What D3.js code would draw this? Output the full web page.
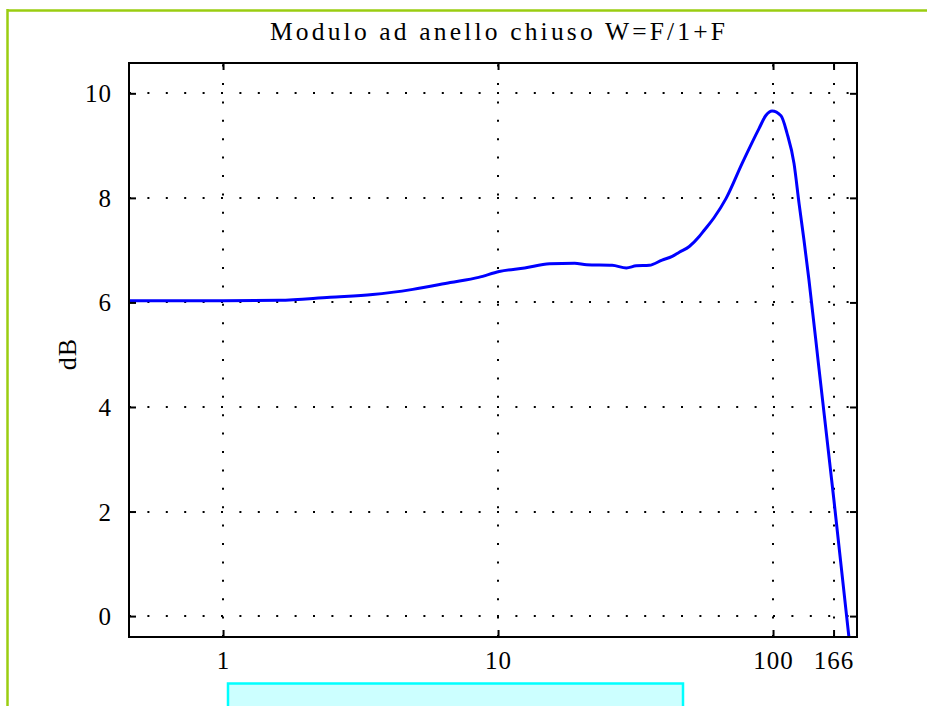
<!DOCTYPE html>
<html>
<head>
<meta charset="utf-8">
<script src="https://cdn.jsdelivr.net/npm/d3@7"></script>
<style>
  html, body { margin: 0; padding: 0; background: #fff; }
  svg { display: block; }
  text { font-family: "Liberation Serif", "Times New Roman", serif; fill: #000; }
</style>
</head>
<body>
<svg id="chart" width="927" height="706"></svg>
<script>
// ---- data ----
const freq = [0.45, 1, 1.6, 2.45, 3.5, 4.9, 6.7, 8.5, 10.1, 12.5, 15.4, 19, 21, 26, 29.3, 31.8, 35.5, 39.5, 43, 45.6, 49.6, 53.9, 56.2, 61, 67.5, 77.2, 89, 94.3, 99.2, 106.9, 112.4, 119.2, 124.3, 129.6, 135.1, 146.9, 166.5, 185.6, 192];
const magDb = [6.03, 6.03, 6.04, 6.10, 6.15, 6.25, 6.38, 6.48, 6.59, 6.66, 6.74, 6.75, 6.72, 6.71, 6.66, 6.70, 6.71, 6.81, 6.88, 6.96, 7.07, 7.26, 7.38, 7.62, 7.99, 8.66, 9.33, 9.58, 9.66, 9.57, 9.24, 8.66, 7.90, 7.19, 6.43, 4.74, 2.22, -0.05, -0.75];
const xTicks = [1, 10, 100, 166];
const xTickLabels = ["1", "10", "100", "166"];
const yTicks = [0, 2, 4, 6, 8, 10];
const yTickLabels = ["0", "2", "4", "6", "8", "10"];
const titleText = "Modulo ad anello chiuso W=F/1+F";
const yLabelText = "dB";

// ---- layout ----
const svg = d3.select("#chart");
const L = 129, R = 857, T = 63, B = 637;

const x = d3.scaleLog().domain([0.455, 202]).range([L, R]);
const y = d3.scaleLinear().domain([-0.4, 10.58]).range([B, T]);

// outer decorative green frame (top + left)
svg.append("line").attr("x1", 7).attr("x2", 927).attr("y1", 10.5).attr("y2", 10.5)
  .attr("stroke", "#9acd10").attr("stroke-width", 2.5);
svg.append("line").attr("x1", 7.5).attr("x2", 7.5).attr("y1", 9).attr("y2", 706)
  .attr("stroke", "#9acd10").attr("stroke-width", 2.5);

// cyan box at bottom
svg.append("rect").attr("x", 228).attr("y", 683.5).attr("width", 455).attr("height", 40)
  .attr("fill", "#ccffff").attr("stroke", "#00ffff").attr("stroke-width", 2.5);

// clip
svg.append("clipPath").attr("id", "plotclip")
  .append("rect").attr("x", L).attr("y", T).attr("width", R - L).attr("height", B - T);

// grid
const grid = svg.append("g").attr("stroke", "#000").attr("stroke-width", 2)
  .attr("stroke-dasharray", "2,16.4").attr("fill", "none");
grid.selectAll("line.v").data(xTicks).join("line")
  .attr("x1", d => Math.round(x(d))).attr("x2", d => Math.round(x(d)))
  .attr("y1", B).attr("y2", T);
grid.selectAll("line.h").data(yTicks).join("line")
  .attr("x1", L).attr("x2", R)
  .attr("y1", d => Math.round(y(d))).attr("y2", d => Math.round(y(d)));

// curve
const line = d3.line().x((d, i) => x(freq[i])).y(d => y(d)).curve(d3.curveMonotoneX);
svg.append("path").datum(magDb)
  .attr("clip-path", "url(#plotclip)")
  .attr("d", line)
  .attr("fill", "none").attr("stroke", "#0000ff").attr("stroke-width", 3)
  .attr("stroke-linejoin", "round");

// axes box
svg.append("rect").attr("x", L).attr("y", T).attr("width", R - L).attr("height", B - T)
  .attr("fill", "none").attr("stroke", "#000").attr("stroke-width", 2);

// axes with inward ticks
const tickLen = 7;
const axB = d3.axisBottom(x).tickValues(xTicks).tickFormat((d, i) => xTickLabels[i])
  .tickSizeInner(-tickLen).tickSizeOuter(0).tickPadding(14);
const gB = svg.append("g").attr("transform", `translate(0,${B})`).call(axB);
const axT = d3.axisTop(x).tickValues(xTicks).tickFormat("").tickSizeInner(-tickLen).tickSizeOuter(0);
const gT = svg.append("g").attr("transform", `translate(0,${T})`).call(axT);
const axL = d3.axisLeft(y).tickValues(yTicks).tickFormat((d, i) => yTickLabels[i])
  .tickSizeInner(-tickLen).tickSizeOuter(0).tickPadding(17);
const gL = svg.append("g").attr("transform", `translate(${L},0)`).call(axL);
const axR = d3.axisRight(y).tickValues(yTicks).tickFormat("").tickSizeInner(-tickLen).tickSizeOuter(0);
const gR = svg.append("g").attr("transform", `translate(${R},0)`).call(axR);

[gB, gT, gL, gR].forEach(g => {
  g.select(".domain").remove();
  g.selectAll(".tick line").attr("stroke", "#000").attr("stroke-width", 2);
  g.selectAll("text").attr("font-family", "'Liberation Serif', serif")
    .attr("font-size", 25).attr("fill", "#000").attr("letter-spacing", 1);
});
gB.selectAll(".tick text").attr("dy", "0.71em");
gL.selectAll(".tick text").attr("dy", "0.34em");

// title
svg.append("text").attr("x", 270).attr("y", 39.5)
  .attr("font-size", 25.5)
  .attr("textLength", 455).attr("lengthAdjust", "spacing")
  .text(titleText);

// y label
svg.append("text")
  .attr("transform", "translate(76,354) rotate(-90)")
  .attr("text-anchor", "middle").attr("font-size", 26)
  .attr("letter-spacing", 1)
  .text(yLabelText);
</script>
</body>
</html>
